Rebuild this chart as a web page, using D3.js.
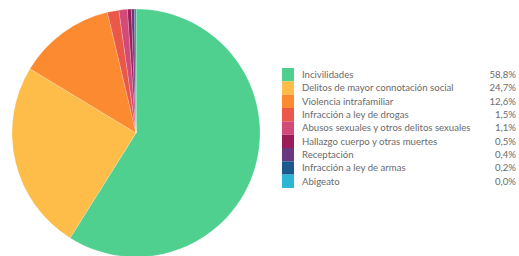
<!DOCTYPE html>
<html>
<head>
<meta charset="utf-8">
<script src="https://cdn.jsdelivr.net/npm/d3@7"></script>
<style>
  body { margin: 0; background: #fff; }
  svg { display: block; }
  .leg text { font-family: Lato, "Open Sans", sans-serif; font-size: 9.6px; fill: #6b6b6b; }
</style>
</head>
<body>
<svg id="chart"></svg>
<script>
// categories and shares (%)
var categories = ["Incivilidades", "Delitos de mayor connotación social", "Violencia intrafamiliar",
  "Infracción a ley de drogas", "Abusos sexuales y otros delitos sexuales", "Hallazgo cuerpo y otras muertes",
  "Receptación", "Infracción a ley de armas", "Abigeato"];
var values = [58.8, 24.7, 12.6, 1.5, 1.1, 0.5, 0.4, 0.2, 0.0];
var labels = ["58,8%", "24,7%", "12,6%", "1,5%", "1,1%", "0,5%", "0,4%", "0,2%", "0,0%"];
var colors = ["#4fd08f", "#fdbd48", "#fb8a30", "#e95848", "#d14a78", "#9b1d58", "#6a3880", "#1b5a8c", "#2cb6d6"];

var width = 519, height = 256;
var svg = d3.select("#chart").attr("width", width).attr("height", height);

var data = categories.map(function(c, i) { return {name: c, value: values[i], label: labels[i]}; });

// pie
var pie = d3.pie().sort(null).value(function(d) { return d.value; });
var arc = d3.arc().innerRadius(0).outerRadius(124);
var color = d3.scaleOrdinal().domain(categories).range(colors);

var g = svg.append("g").attr("transform", "translate(136,133)");
g.selectAll("path")
  .data(pie(data))
  .enter().append("path")
    .attr("d", arc)
    .attr("fill", function(d) { return color(d.data.name); })
    .attr("stroke", "#ffffff")
    .attr("stroke-opacity", 0.35)
    .attr("stroke-width", 0.6);

// legend
var rowH = 13.33;
var y = d3.scaleBand().domain(categories).range([68, 68 + rowH * categories.length]).padding(0);

var leg = svg.append("g").attr("class", "leg");
leg.selectAll("rect")
  .data(data)
  .enter().append("rect")
    .attr("x", 282)
    .attr("y", function(d) { return y(d.name); })
    .attr("width", 12)
    .attr("height", y.bandwidth())
    .attr("fill", function(d) { return color(d.name); });

leg.selectAll("text.name")
  .data(data)
  .enter().append("text")
    .attr("class", "name")
    .attr("x", 302)
    .attr("y", function(d) { return y(d.name) + y.bandwidth() / 2; })
    .attr("dy", "0.35em")
    .text(function(d) { return d.name; });

leg.selectAll("text.val")
  .data(data)
  .enter().append("text")
    .attr("class", "val")
    .attr("x", 516)
    .attr("y", function(d) { return y(d.name) + y.bandwidth() / 2; })
    .attr("dy", "0.35em")
    .attr("text-anchor", "end")
    .text(function(d) { return d.label; });
</script>
</body>
</html>
